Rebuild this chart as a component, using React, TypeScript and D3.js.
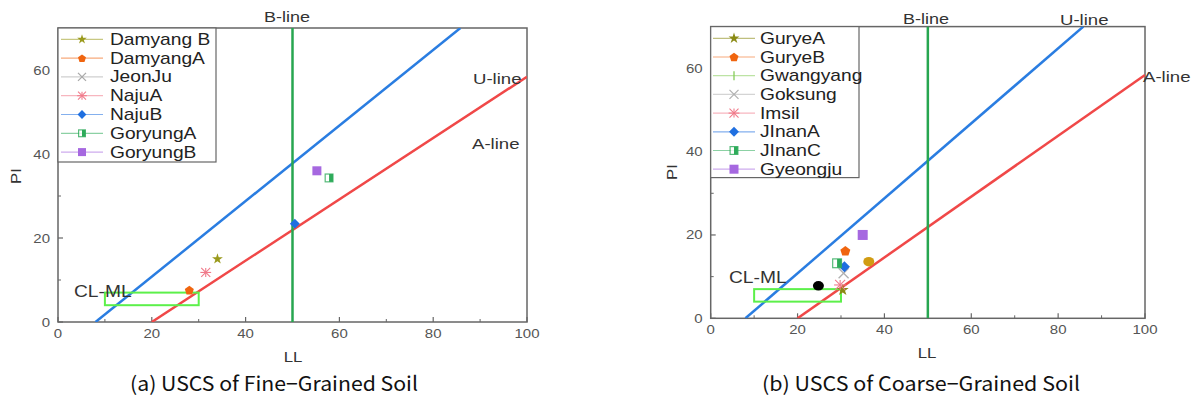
import React from "react";
import * as d3 from "d3";

// ---------- data ----------
const llTicks = [0, 20, 40, 60, 80, 100];
const llMinor = [10, 30, 50, 70, 90];
const piTicks = [0, 20, 40, 60];
const piMinor = [10, 30, 50];

// Casagrande chart reference lines [LL, PI]
const uLine: [number, number][] = [[8, 0], [85.8, 70]];
const aLine: [number, number][] = [[20, 0], [100, 58.4]];
const bLine: [number, number][] = [[50, 0], [50, 70]];
const clmlLL = [10, 30];
const clmlPI = [4, 7];

// (a) fine-grained
const fineNames = ["Damyang B", "DamyangA", "JeonJu", "NajuA", "NajuB", "GoryungA", "GoryungB"];
const fineLL: (number | null)[] = [34, 28, null, 31.5, 50.5, 57.8, 55.2];
const finePI: (number | null)[] = [15, 7.6, null, 11.8, 23.4, 34.3, 36.0];

// (b) coarse-grained
const coarseNames = ["GuryeA", "GuryeB", "Gwangyang", "Goksung", "Imsil", "JInanA", "JInanC", "Gyeongju"];
const coarseLL: (number | null)[] = [30.4, 31.0, null, 30.6, 29.8, 30.8, 29.1, 35.0];
const coarsePI: (number | null)[] = [6.8, 16.2, null, 10.8, 8.0, 12.4, 13.2, 20.0];
// unlabelled extra points in (b)
const extraNames = ["black", "gold"];
const extraLL = [24.8, 36.4];
const extraPI = [7.8, 13.6];

const captions = ["(a) USCS of Fine\u2212Grained Soil", "(b) USCS of Coarse\u2212Grained Soil"];

// ---------- styles ----------
const markerStyle: Record<string, { shape: string; color: string }> = {
  "Damyang B": { shape: "star", color: "#9a9a1c" },
  DamyangA: { shape: "pentagon", color: "#f0650f" },
  JeonJu: { shape: "x", color: "#a8a8a8" },
  NajuA: { shape: "asterisk", color: "#f07a8a" },
  NajuB: { shape: "diamond", color: "#1f6fe0" },
  GoryungA: { shape: "halfsquare", color: "#2eab5a" },
  GoryungB: { shape: "square", color: "#a668e0" },
  GuryeA: { shape: "star", color: "#8a8a14" },
  GuryeB: { shape: "pentagon", color: "#f0650f" },
  Gwangyang: { shape: "plus", color: "#86cc5a" },
  Goksung: { shape: "x", color: "#b0b0b0" },
  Imsil: { shape: "asterisk", color: "#f07a8a" },
  JInanA: { shape: "diamond", color: "#1f6fe0" },
  JInanC: { shape: "halfsquare", color: "#2eab5a" },
  Gyeongju: { shape: "square", color: "#a668e0" },
  black: { shape: "circle", color: "#000000" },
  gold: { shape: "circle", color: "#d19c12" },
};

const SX = 1.2;
const FONT = "'Liberation Sans', Arial, sans-serif";

function Txt({ x, y, text, size, anchor = "start", fill = "#333", rotate = 0, family = FONT, sx = SX }: any) {
  return (
    <text
      transform={`translate(${x},${y}) rotate(${rotate}) scale(${sx},1)`}
      fontSize={size}
      fontFamily={family}
      textAnchor={anchor}
      fill={fill}
    >
      {text}
    </text>
  );
}

function Marker({ x, y, name, size }: { x: number; y: number; name: string; size: number }) {
  const st = markerStyle[name];
  const c = st.color;
  const r = size / 2;
  switch (st.shape) {
    case "star":
      return <path transform={`translate(${x},${y})`} d={d3.symbol(d3.symbolStar, size * size * 0.45)()!} fill={c} />;
    case "pentagon": {
      const pts = d3.range(5).map((i) => {
        const a = -Math.PI / 2 + (i * 2 * Math.PI) / 5;
        return [x + r * 1.05 * Math.cos(a), y + r * 1.05 * Math.sin(a) + 0.5];
      });
      return <polygon points={pts.map((p) => p.join(",")).join(" ")} fill={c} />;
    }
    case "x":
      return (
        <g stroke={c} strokeWidth={1.3}>
          <line x1={x - r} y1={y - r} x2={x + r} y2={y + r} />
          <line x1={x - r} y1={y + r} x2={x + r} y2={y - r} />
        </g>
      );
    case "plus":
      return (
        <g stroke={c} strokeWidth={1.3}>
          <line x1={x} y1={y - r} x2={x} y2={y + r} />
        </g>
      );
    case "asterisk":
      return (
        <g stroke={c} strokeWidth={1.1}>
          <line x1={x - r} y1={y - r} x2={x + r} y2={y + r} />
          <line x1={x - r} y1={y + r} x2={x + r} y2={y - r} />
          <line x1={x - r * 1.2} y1={y} x2={x + r * 1.2} y2={y} />
          <line x1={x} y1={y - r} x2={x} y2={y + r} />
        </g>
      );
    case "diamond":
      return (
        <polygon
          points={`${x},${y - r * 1.1} ${x + r * 1.1},${y} ${x},${y + r * 1.1} ${x - r * 1.1},${y}`}
          fill={c}
        />
      );
    case "halfsquare":
      return (
        <g>
          <rect x={x - r + 0.6} y={y - r + 0.6} width={size - 1.2} height={size - 1.2} fill="#fff" stroke={c} strokeWidth={1.2} opacity={0.8} />
          <rect x={x} y={y - r + 0.6} width={r - 0.6} height={size - 1.2} fill={c} />
        </g>
      );
    case "square":
      return <rect x={x - r} y={y - r} width={size} height={size} fill={c} />;
    case "circle":
      return <ellipse cx={x} cy={y} rx={r * 1.1} ry={r * 0.95} fill={c} />;
  }
  return null;
}

function Panel(props: any) {
  const { L, R, T, B, names, ll, pi, exLL, exPI, exNames, leg, lab, msize } = props;
  const x = d3.scaleLinear().domain([0, 100]).range([L, R]);
  const y = d3.scaleLinear().domain([0, 70]).range([B, T]);
  const line = d3.line<[number, number]>().x((d) => x(d[0])).y((d) => y(d[1]));
  const clipId = `clip${Math.round(L)}`;
  return (
    <g>
      <defs>
        <clipPath id={clipId}>
          <rect x={L} y={T} width={R - L} height={B - T} />
        </clipPath>
      </defs>
      {/* frame */}
      <rect x={L} y={T} width={R - L} height={B - T} fill="none" stroke="#666" strokeWidth={1.5} />
      {/* ticks */}
      {llTicks.map((t) => (
        <g key={"xt" + t}>
          <line x1={x(t)} x2={x(t)} y1={B} y2={B - 5} stroke="#666" strokeWidth={1.2} />
          <Txt x={x(t)} y={B + lab.xTickDy} text={String(t)} size={12.5} anchor="middle" fill="#555" />
        </g>
      ))}
      {llMinor.map((t) => (
        <line key={"xm" + t} x1={x(t)} x2={x(t)} y1={B} y2={B - 3} stroke="#666" strokeWidth={1} />
      ))}
      {piTicks.map((t) => (
        <g key={"yt" + t}>
          <line x1={L} x2={L + 5} y1={y(t)} y2={y(t)} stroke="#666" strokeWidth={1.2} />
          <Txt x={L - 8} y={y(t) + 4.5} text={String(t)} size={12.5} anchor="end" fill="#555" />
        </g>
      ))}
      {piMinor.map((t) => (
        <line key={"ym" + t} x1={L} x2={L + 3} y1={y(t)} y2={y(t)} stroke="#666" strokeWidth={1} />
      ))}
      {/* reference lines */}
      <g clipPath={`url(#${clipId})`}>
        <path d={line(uLine)!} stroke="#2a7de1" strokeWidth={2.5} fill="none" />
        <path d={line(aLine)!} stroke="#f04848" strokeWidth={2.5} fill="none" />
        <path d={line(bLine)!} stroke="#27a650" strokeWidth={2.5} fill="none" />
        <rect
          x={x(clmlLL[0])}
          y={y(clmlPI[1])}
          width={x(clmlLL[1]) - x(clmlLL[0])}
          height={y(clmlPI[0]) - y(clmlPI[1])}
          fill="none"
          stroke="#5cf04a"
          strokeWidth={2}
        />
      </g>
      {/* points */}
      {exNames &&
        exNames.map((n: string, i: number) => (
          <Marker key={"e" + n} x={x(exLL[i])} y={y(exPI[i])} name={n} size={msize} />
        ))}
      {names.map((n: string, i: number) =>
        ll[i] == null ? null : <Marker key={"p" + n} x={x(ll[i])} y={y(pi[i])} name={n} size={msize} />
      )}
      {/* labels */}
      <Txt x={lab.b[0]} y={lab.b[1]} text="B-line" size={15} />
      <Txt x={lab.u[0]} y={lab.u[1]} text="U-line" size={15.5} />
      <Txt x={lab.a[0]} y={lab.a[1]} text="A-line" size={15.5} />
      <Txt x={lab.cl[0]} y={lab.cl[1]} text="CL-ML" size={16} />
      <Txt x={lab.pi[0]} y={lab.pi[1]} text="PI" size={14} anchor="middle" rotate={-90} />
      <Txt x={lab.ll[0]} y={lab.ll[1]} text="LL" size={14} anchor="middle" />
      {/* legend */}
      <rect x={leg.x} y={leg.y} width={leg.w} height={leg.h} fill="#fff" stroke="#666" strokeWidth={1.2} />
      {names.map((n: string, i: number) => {
        const cy = leg.y0 + i * leg.dy;
        const c = markerStyle[n].color;
        return (
          <g key={"l" + n}>
            <line x1={leg.lx0} x2={leg.lx1} y1={cy} y2={cy} stroke={c} strokeOpacity={0.55} strokeWidth={1.2} />
            <Marker x={(leg.lx0 + leg.lx1) / 2} y={cy} name={n} size={leg.ms} />
            <Txt x={leg.tx} y={cy + 5.5} text={n} size={16} fill="#222" />
          </g>
        );
      })}
    </g>
  );
}

export default function App() {
  return (
    <svg
      width={1196}
      height={403}
      style={{ position: "absolute", left: 0, top: 0, background: "#fff" }}
    >
      <rect width={1196} height={403} fill="#fff" />
      <Panel
        L={58}
        R={527}
        T={28}
        B={322}
        names={fineNames}
        ll={fineLL}
        pi={finePI}
        msize={9}
        leg={{ x: 58, y: 28, w: 158, h: 134, y0: 39.3, dy: 18.8, lx0: 61, lx1: 103, tx: 110, ms: 8 }}
        lab={{ b: [264, 21.5], u: [473, 83.5], a: [472, 148.5], cl: [74, 296.5], pi: [21, 176], ll: [293, 362], xTickDy: 16 }}
      />
      <Panel
        L={710.7}
        R={1145}
        T={26.6}
        B={318.3}
        names={coarseNames}
        ll={coarseLL}
        pi={coarsePI}
        exNames={extraNames}
        exLL={extraLL}
        exPI={extraPI}
        msize={10}
        leg={{ x: 710.7, y: 26.6, w: 148.3, h: 151, y0: 38.3, dy: 18.7, lx0: 713, lx1: 755, tx: 760, ms: 9 }}
        lab={{ b: [903, 24], u: [1060, 24.5], a: [1143, 81.5], cl: [729, 283], pi: [677, 172], ll: [927, 358], xTickDy: 16 }}
      />
      <text x={274} y={391} fontSize={20} fontFamily="'Noto Sans CJK KR', sans-serif" textAnchor="middle" fill="#111" textLength={288} lengthAdjust="spacingAndGlyphs">
        {captions[0]}
      </text>
      <text x={921} y={391} fontSize={20} fontFamily="'Noto Sans CJK KR', sans-serif" textAnchor="middle" fill="#111" textLength={318} lengthAdjust="spacingAndGlyphs">
        {captions[1]}
      </text>
    </svg>
  );
}
